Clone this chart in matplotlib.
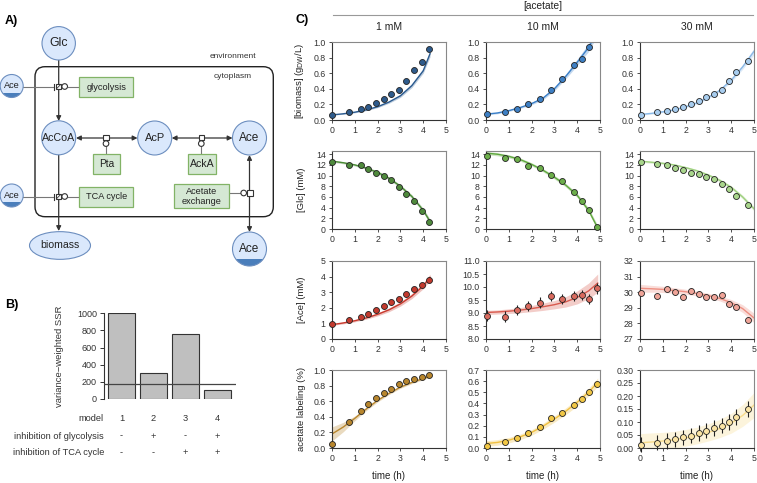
import numpy as np
import matplotlib
matplotlib.use("Agg")
import matplotlib.pyplot as plt
from matplotlib.patches import Circle, Rectangle, Ellipse, FancyBboxPatch

plt.rcParams["font.family"] = ["Liberation Sans", "DejaVu Sans"]

# ---- panel B data
models = ["1", "2", "3", "4"]
ssr = [1000, 300, 758, 100]
ssr_threshold = 170
inh_glycolysis = ["-", "+", "-", "+"]
inh_tca = ["-", "-", "+", "+"]

# ---- panel C data (measurements)
conc_labels = ["1 mM", "10 mM", "30 mM"]

t_1mM = [0, 0.76, 1.26, 1.58, 1.93, 2.27, 2.6, 2.92, 3.25, 3.6, 3.93, 4.27]
t_10mM = [0.06, 0.85, 1.36, 1.84, 2.35, 2.85, 3.33, 3.86, 4.19, 4.53, 4.87]
t_30mM = [0.03, 0.75, 1.2, 1.55, 1.9, 2.25, 2.57, 2.9, 3.25, 3.6, 3.92, 4.23, 4.73]

biomass_1mM = [0.065, 0.105, 0.14, 0.17, 0.22, 0.27, 0.33, 0.38, 0.50, 0.64, 0.75, 0.91]
biomass_10mM = [0.075, 0.105, 0.14, 0.20, 0.27, 0.39, 0.53, 0.71, 0.78, 0.94]
biomass_30mM = [0.07, 0.10, 0.12, 0.14, 0.17, 0.21, 0.25, 0.29, 0.335, 0.39, 0.50, 0.61, 0.76]

glc_1mM = [12.5, 11.9, 11.9, 11.2, 10.5, 10.0, 9.1, 7.8, 6.5, 5.2, 3.4, 1.4]
glc_10mM = [13.7, 13.2, 13.1, 11.8, 11.5, 10.1, 9.0, 7.0, 5.2, 3.6, 0.4]
glc_30mM = [12.6, 12.1, 11.9, 11.5, 11.0, 10.4, 10.3, 9.7, 9.3, 8.5, 7.4, 6.1, 4.4]

ace_1mM = [0.97, 1.23, 1.44, 1.62, 1.83, 2.09, 2.35, 2.54, 2.87, 3.2, 3.45, 3.81]
ace_10mM = [8.9, 8.86, 9.12, 9.27, 9.4, 9.66, 9.55, 9.65, 9.7, 9.55, 9.95]
ace_30mM = [29.95, 29.78, 30.2, 30.0, 29.68, 30.1, 29.9, 29.7, 29.72, 29.85, 29.22, 29.05, 28.25]

lab_1mM = [0.056, 0.33, 0.48, 0.57, 0.635, 0.70, 0.76, 0.815, 0.855, 0.884, 0.914, 0.936]
lab_10mM = [0.02, 0.057, 0.093, 0.138, 0.186, 0.267, 0.312, 0.39, 0.444, 0.504, 0.57]
lab_30mM = [0.013, 0.021, 0.027, 0.033, 0.041, 0.048, 0.057, 0.067, 0.076, 0.086, 0.10, 0.12, 0.15]

# error bar half widths per row / column
err_biomass = [0.03, 0.03, 0.025]
err_glc = [0.3, 0.3, 0.3]
err_ace = [0.15, 0.2, 0.15]
err_lab = [0.015, 0.02, 0.03]

# ---- panel C model fits and confidence half widths
fit_t_1mM = [0, 0.5, 1, 1.5, 2, 2.5, 3, 3.5, 4, 4.3]
fit_t_10mM = [0, 0.5, 1, 1.5, 2, 2.5, 3, 3.5, 4, 4.5, 4.9]
fit_t_30mM = [0, 0.5, 1, 1.5, 2, 2.5, 3, 3.5, 4, 4.5, 5]

biomass_fit_1mM = [0.065, 0.08, 0.10, 0.13, 0.17, 0.23, 0.31, 0.44, 0.63, 0.85]
biomass_fit_10mM = [0.075, 0.09, 0.12, 0.16, 0.21, 0.28, 0.40, 0.56, 0.74, 0.93, 1.15]
biomass_fit_30mM = [0.07, 0.085, 0.105, 0.13, 0.17, 0.22, 0.29, 0.38, 0.51, 0.68, 0.88]
biomass_band_1mM = [0.005, 0.005, 0.008, 0.01, 0.012, 0.015, 0.02, 0.025, 0.03, 0.04]
biomass_band_10mM = [0.01, 0.01, 0.01, 0.012, 0.015, 0.02, 0.025, 0.03, 0.04, 0.05, 0.06]
biomass_band_30mM = [0.01, 0.01, 0.01, 0.01, 0.012, 0.014, 0.017, 0.02, 0.025, 0.03, 0.04]

glc_fit_1mM = [12.7, 12.4, 12.0, 11.4, 10.6, 9.5, 8.0, 6.1, 3.5, 1.4]
glc_fit_10mM = [14.2, 14.0, 13.6, 13.0, 12.1, 11.0, 9.7, 8.2, 6.3, 3.5, 0.2]
glc_fit_30mM = [12.7, 12.5, 12.3, 12.0, 11.5, 10.9, 10.1, 9.1, 7.8, 6.0, 3.8]
glc_band_1mM = [0.2, 0.2, 0.2, 0.25, 0.3, 0.3, 0.3, 0.35, 0.4, 0.45]
glc_band_10mM = [0.3, 0.3, 0.3, 0.3, 0.3, 0.3, 0.35, 0.35, 0.4, 0.45, 0.5]
glc_band_30mM = [0.2, 0.2, 0.2, 0.2, 0.2, 0.25, 0.25, 0.3, 0.3, 0.35, 0.4]

ace_fit_1mM = [0.92, 1.03, 1.17, 1.35, 1.58, 1.87, 2.25, 2.75, 3.4, 3.95]
ace_fit_10mM = [9.02, 9.04, 9.07, 9.11, 9.17, 9.24, 9.32, 9.43, 9.6, 9.85, 10.15]
ace_fit_30mM = [30.25, 30.22, 30.18, 30.11, 30.03, 29.92, 29.78, 29.6, 29.33, 28.95, 28.35]
ace_band_1mM = [0.05, 0.06, 0.07, 0.08, 0.1, 0.12, 0.14, 0.16, 0.18, 0.2]
ace_band_10mM = [0.08, 0.08, 0.09, 0.1, 0.12, 0.14, 0.16, 0.2, 0.25, 0.3, 0.35]
ace_band_30mM = [0.25, 0.22, 0.2, 0.18, 0.16, 0.15, 0.15, 0.16, 0.2, 0.25, 0.3]

lab_fit_1mM = [0.18, 0.27, 0.38, 0.50, 0.61, 0.70, 0.78, 0.84, 0.89, 0.92]
lab_fit_10mM = [0.04, 0.05, 0.07, 0.10, 0.14, 0.195, 0.26, 0.33, 0.41, 0.50, 0.59]
lab_fit_30mM = [0.02, 0.023, 0.027, 0.032, 0.039, 0.048, 0.06, 0.075, 0.095, 0.125, 0.165]
lab_band_1mM = [0.09, 0.06, 0.03, 0.02, 0.02, 0.015, 0.015, 0.015, 0.015, 0.015]
lab_band_10mM = [0.025, 0.025, 0.025, 0.025, 0.025, 0.027, 0.028, 0.03, 0.032, 0.035, 0.038]
lab_band_30mM = [0.035, 0.035, 0.033, 0.032, 0.032, 0.032, 0.033, 0.035, 0.038, 0.042, 0.048]

# ---- style
W, H = 757, 483
DARK = "#333333"
NODE_FC, NODE_EC = "#dae8fc", "#6c8ebf"
BOX_FC, BOX_EC = "#d5e8d4", "#82b366"
CAP = "#4a7ebb"

row_colors = [
    ["#2e5b8c", "#3d7fc4", "#a8cdef"],
    ["#4f8a3c", "#6cae4a", "#a9d68c"],
    ["#c33a2e", "#d96a5e", "#f0a498"],
    ["#b8862d", "#f2c744", "#fbe4a4"],
]
line_colors = [
    ["#2a5a8f", "#3a7fc8", "#8ab8e6"],
    ["#4a8a36", "#5fa83d", "#9fd07f"],
    ["#c8382c", "#d95a4e", "#ee8f82"],
    ["#b8862d", "#f0c040", "#f8dc8c"],
]

fig = plt.figure(figsize=(W / 100, H / 100), dpi=100)


def px_axes(x0, y0, x1, y1):
    return fig.add_axes([x0 / W, 1 - y1 / H, (x1 - x0) / W, (y1 - y0) / H])


# ---------------- overlay for panel A and headings (pixel coordinates)
ov = fig.add_axes([0, 0, 1, 1])
ov.set_xlim(0, W)
ov.set_ylim(H, 0)
ov.axis("off")


def node(cx, cy, r, label, fs, cap=False):
    c = Circle((cx, cy), r, fc=NODE_FC, ec="none", zorder=2)
    ov.add_patch(c)
    if cap:
        cp = Rectangle((cx - r, cy + 0.58 * r), 2 * r, r, fc=CAP, ec="none", zorder=2)
        ov.add_patch(cp)
        cp.set_clip_path(c)
    ov.add_patch(Circle((cx, cy), r, fc="none", ec=NODE_EC, lw=0.8, zorder=3))
    ov.text(cx, cy, label, ha="center", va="center", fontsize=fs, color="#222", zorder=4)


def box(x0, y0, x1, y1, label, fs):
    ov.add_patch(Rectangle((x0, y0), x1 - x0, y1 - y0, fc=BOX_FC, ec=BOX_EC, lw=0.9, zorder=2))
    ov.text((x0 + x1) / 2, (y0 + y1) / 2, label, ha="center", va="center",
            fontsize=fs, color="#222", linespacing=1.1, zorder=4)


def arrow(p0, p1, style="-|>"):
    ov.annotate("", xy=p1, xytext=p0,
                arrowprops=dict(arrowstyle=style, color=DARK, lw=0.9,
                                mutation_scale=7, shrinkA=0, shrinkB=0), zorder=1)


def square(cx, cy, s=5.5):
    ov.add_patch(Rectangle((cx - s / 2, cy - s / 2), s, s, fc="white", ec=DARK, lw=0.8, zorder=5))


def dot(cx, cy, r=2.8):
    ov.add_patch(Circle((cx, cy), r, fc="white", ec=DARK, lw=0.8, zorder=5))


def gline(xs, ys):
    ov.plot(xs, ys, color="#777777", lw=0.8, zorder=1)


ov.text(5, 21, "A)", fontsize=9, fontweight="bold", va="center")
ov.text(233, 56, "environment", fontsize=6, ha="center", va="center", color="#333")
ov.add_patch(FancyBboxPatch((35, 66.7), 238.3, 150, boxstyle="round,pad=0,rounding_size=10",
                            fc="none", ec="#222", lw=1.0, zorder=1))
ov.text(233, 77, "cytoplasm", fontsize=6, ha="center", va="center", color="#333")

# main arrows
arrow((58.7, 60), (58.7, 121))
arrow((58.7, 155), (58.7, 231))
arrow((76, 138), (137.5, 138), "<|-|>")
arrow((171.7, 138), (232.5, 138), "<|-|>")
arrow((249.5, 155), (249.5, 232), "<|-|>")

node(58.7, 43.3, 16.7, "Glc", 8.8)
node(58.7, 137.8, 17, "AcCoA", 7.7)
node(154.7, 138, 17, "AcP", 7.9)
node(249.5, 138, 17, "Ace", 8.5)
node(249.5, 249, 17, "Ace", 8.5, cap=True)
node(11.7, 86, 11.5, "Ace", 6.6, cap=True)
node(11.7, 195.5, 11.5, "Ace", 6.6, cap=True)
ov.add_patch(Ellipse((60, 245.5), 61, 27.7, fc=NODE_FC, ec=NODE_EC, lw=0.8, zorder=2))
ov.text(60, 245.5, "biomass", ha="center", va="center", fontsize=7.6, color="#222", zorder=4)

box(79, 76.7, 133.3, 97.3, "glycolysis", 6.7)
box(79, 186.7, 133.3, 206.7, "TCA cycle", 6.6)
box(92.7, 154.3, 120, 174.3, "Pta", 7.3)
box(188.3, 154.3, 216, 174.3, "AckA", 7.6)
box(174.3, 184.3, 229, 208.3, "Acetate\nexchange", 6.6)

# regulation / catalysis symbols
for yy in (86.5, 196.5):
    gline([23.2, 54], [yy, yy])
    ov.plot([54, 54], [yy - 3, yy + 3], color=DARK, lw=0.8, zorder=5)
    square(58.7, yy)
    ov.plot([57, 60.4], [yy + 1.7, yy - 1.7], color=DARK, lw=0.6, zorder=6)
    dot(64.7, yy)
    gline([67.5, 79], [yy, yy])
for xx in (106, 201.3):
    square(xx, 137.5)
    dot(xx, 143.6)
    gline([xx, xx], [146.4, 154.3])
square(250, 193)
dot(243.7, 193)
gline([229, 240.9], [193, 193])

# ---------------- panel B
ov.text(5, 305, "B)", fontsize=9, fontweight="bold", va="center")
axb = px_axes(104, 313.3, 236, 399)
xb = np.arange(1, len(models) + 1)
axb.bar(xb, ssr, width=0.84, color="#bfbfbf", edgecolor=DARK, lw=0.8, zorder=2)
axb.axhline(ssr_threshold, color="#444", lw=0.9, zorder=3)
axb.set_xlim(0.453, 4.58)
axb.set_ylim(0, 1000)
axb.set_yticks(np.arange(0, 1001, 200))
for s in ("top", "right", "bottom"):
    axb.spines[s].set_visible(False)
axb.spines["left"].set_color(DARK)
axb.spines["left"].set_linewidth(0.8)
axb.set_xticks([])
axb.tick_params(axis="y", direction="out", length=3, width=0.7, pad=2,
                labelsize=6.5, colors=DARK)
axb.set_ylabel("variance\u2212weighted SSR", fontsize=6.8, color=DARK)
axb.yaxis.set_label_coords(-0.3, 0.5)
tr = axb.get_xaxis_transform()
table_rows = [("model", models, -0.222), ("inhibition of glycolysis", inh_glycolysis, -0.432),
              ("inhibition of TCA cycle", inh_tca, -0.63)]
for name, vals, yy in table_rows:
    axb.text(0.0, yy, name, transform=axb.transAxes, ha="right", va="center",
             fontsize=6.7, color=DARK)
    for x, v in zip(xb, vals):
        axb.text(x, yy, v, transform=tr, ha="center", va="center", fontsize=6.7, color=DARK)

# ---------------- panel C
ov.text(296, 20, "C)", fontsize=9, fontweight="bold", va="center")
ov.text(543, 6, "[acetate]", fontsize=7.3, ha="center", va="center", color="#222")
ov.plot([333, 753], [15, 15], color="#999999", lw=0.8)

col_left = [332, 486, 640]
col_w = 114
row_top = [42, 151, 261, 370]
row_h = 78

data_t = [t_1mM, t_10mM, t_30mM]
fit_t = [fit_t_1mM, fit_t_10mM, fit_t_30mM]
meas = [
    [biomass_1mM, biomass_10mM, biomass_30mM],
    [glc_1mM, glc_10mM, glc_30mM],
    [ace_1mM, ace_10mM, ace_30mM],
    [lab_1mM, lab_10mM, lab_30mM],
]
fits = [
    [biomass_fit_1mM, biomass_fit_10mM, biomass_fit_30mM],
    [glc_fit_1mM, glc_fit_10mM, glc_fit_30mM],
    [ace_fit_1mM, ace_fit_10mM, ace_fit_30mM],
    [lab_fit_1mM, lab_fit_10mM, lab_fit_30mM],
]
bands = [
    [biomass_band_1mM, biomass_band_10mM, biomass_band_30mM],
    [glc_band_1mM, glc_band_10mM, glc_band_30mM],
    [ace_band_1mM, ace_band_10mM, ace_band_30mM],
    [lab_band_1mM, lab_band_10mM, lab_band_30mM],
]
errs = [err_biomass, err_glc, err_ace, err_lab]
ylabels = ["[biomass] (g$_{\\mathrm{DW}}$/L)", "[Glc] (mM)", "[Ace] (mM)", "acetate labeling (%)"]
ylims = [
    [(0, 1), (0, 1), (0, 1)],
    [(0, 14.6), (0, 14.6), (0, 14.6)],
    [(0, 5), (8, 11), (27, 32)],
    [(0, 1), (0, 0.7), (0, 0.3)],
]
yticks = [
    [np.arange(0, 1.01, 0.2)] * 3,
    [np.arange(0, 15, 2)] * 3,
    [np.arange(0, 6, 1), np.arange(8, 11.01, 0.5), np.arange(27, 33, 1)],
    [np.arange(0, 1.01, 0.2), np.arange(0, 0.71, 0.1), np.arange(0, 0.301, 0.05)],
]
yfmt = [
    ["%.1f"] * 3,
    ["%d"] * 3,
    ["%d", "%.1f", "%d"],
    ["%.1f", "%.1f", "%.2f"],
]

for r in range(4):
    for c in range(3):
        ax = px_axes(col_left[c], row_top[r], col_left[c] + col_w, row_top[r] + row_h)
        ft = np.array(fit_t[c])
        fy = np.array(fits[r][c])
        fb = np.array(bands[r][c])
        ax.fill_between(ft, fy - fb, fy + fb, color=line_colors[r][c], alpha=0.3, lw=0, zorder=1)
        ax.plot(ft, fy, color=line_colors[r][c], lw=1.0, zorder=2)
        yv = meas[r][c]
        tv = data_t[c][:len(yv)]
        eb = ax.errorbar(tv, yv, yerr=errs[r][c], fmt="o", ms=4.3, mfc=row_colors[r][c],
                         mec="#222", mew=0.6, ecolor="#222", elinewidth=0.8, capsize=0, zorder=3)
        for art in eb.get_children():
            art.set_clip_on(False)
        ax.set_xlim(0, 5)
        ax.set_ylim(*ylims[r][c])
        ax.set_xticks(range(6))
        ax.set_yticks(yticks[r][c])
        ax.set_yticklabels([yfmt[r][c] % v for v in yticks[r][c]])
        ax.tick_params(direction="out", length=2.5, width=0.6, pad=2, labelsize=6.3,
                       colors="#333")
        for s in ("left", "bottom"):
            ax.spines[s].set_color(DARK)
            ax.spines[s].set_linewidth(0.8)
        for s in ("top", "right"):
            ax.spines[s].set_color("#888888")
            ax.spines[s].set_linewidth(0.8)
        if r == 0:
            ax.set_title(conc_labels[c], fontsize=7.5, color="#222", pad=9)
        if c == 0:
            ax.set_ylabel(ylabels[r], fontsize=6.8, color="#222")
            ax.yaxis.set_label_coords(-0.23, 0.5)
        if r == 3:
            ax.set_xlabel("time (h)", fontsize=7, color="#222")
            ax.xaxis.set_label_coords(0.5, -0.3)

fig.savefig("out.png", dpi=100)
